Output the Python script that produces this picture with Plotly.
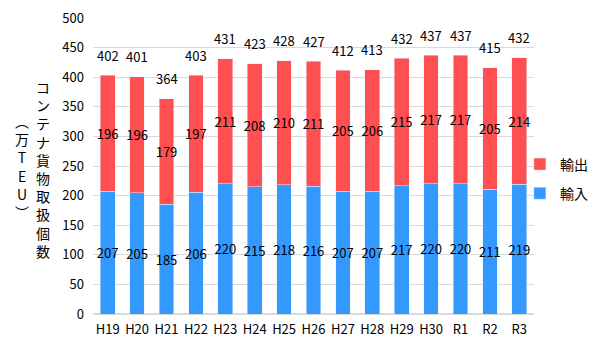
import plotly.graph_objects as go

years = ["H19","H20","H21","H22","H23","H24","H25","H26","H27","H28","H29","H30","R1","R2","R3"]
imports = [207,205,185,206,220,215,218,216,207,207,217,220,220,211,219]
exports = [196,196,179,197,211,208,210,211,205,206,215,217,217,205,214]
totals = [402,401,364,403,431,423,428,427,412,413,432,437,437,415,432]

RED = "#FF4F50"
BLUE = "#3399FF"
FONT = "Noto Sans CJK JP"

fig = go.Figure()
fig.add_trace(go.Bar(x=years, y=imports, name="輸入", marker_color=BLUE, legendgroup="b",
                     legendrank=2,
                     text=imports, textposition="inside", insidetextanchor="middle",
                     textfont=dict(color="#000000", size=13), textangle=0))
fig.add_trace(go.Bar(x=years, y=exports, name="輸出", marker_color=RED, legendgroup="a",
                     legendrank=1,
                     text=exports, textposition="inside", insidetextanchor="middle",
                     textfont=dict(color="#000000", size=13), textangle=0))
sums = [a + b for a, b in zip(imports, exports)]

annotations = []
for yr, s, t in zip(years, sums, totals):
    annotations.append(dict(x=yr, y=s, text=str(t), showarrow=False, yshift=20,
                            yanchor="middle", font=dict(size=13, color="#000000")))

col1 = "<br>".join(list("コンテナ貨物取扱個数"))
col2 = "<br>".join(list("︵万TEU︶"))
annotations += [
    dict(text=col1, x=-0.113, y=0.49, xref="paper", yref="paper",
         showarrow=False, font=dict(size=14, family=FONT), xanchor="center", yanchor="middle"),
    dict(text=col2, x=-0.161, y=0.5, xref="paper", yref="paper",
         showarrow=False, font=dict(size=14, family=FONT), xanchor="center", yanchor="middle"),
]

fig.update_layout(
    width=601, height=360,
    barmode="stack", bargap=0.5,
    plot_bgcolor="white", paper_bgcolor="white",
    margin=dict(l=93, r=67, t=18, b=46, autoexpand=False),
    font=dict(family=FONT, size=12, color="#000000"),
    uniformtext=dict(minsize=8, mode="show"),
    legend=dict(x=0.968, y=0.456, yanchor="middle", xanchor="left",
                traceorder="grouped", font=dict(size=14),
                bgcolor="rgba(0,0,0,0)", tracegroupgap=8),
    showlegend=True,
    annotations=annotations,
)
fig.update_yaxes(range=[0, 500], dtick=50, showgrid=True, gridcolor="#D9D9D9",
                 zeroline=True, zerolinecolor="#D9D9D9", ticks="", ticklabelstandoff=8,
                 tickfont=dict(size=13, color="#000000"))
fig.update_xaxes(showline=False, ticks="", tickfont=dict(size=13, color="#000000"),
                 ticklabelstandoff=6)

fig.write_html("out.html", config={"displayModeBar": False},
               post_script="document.body.style.margin='0';document.body.style.padding='0';")
